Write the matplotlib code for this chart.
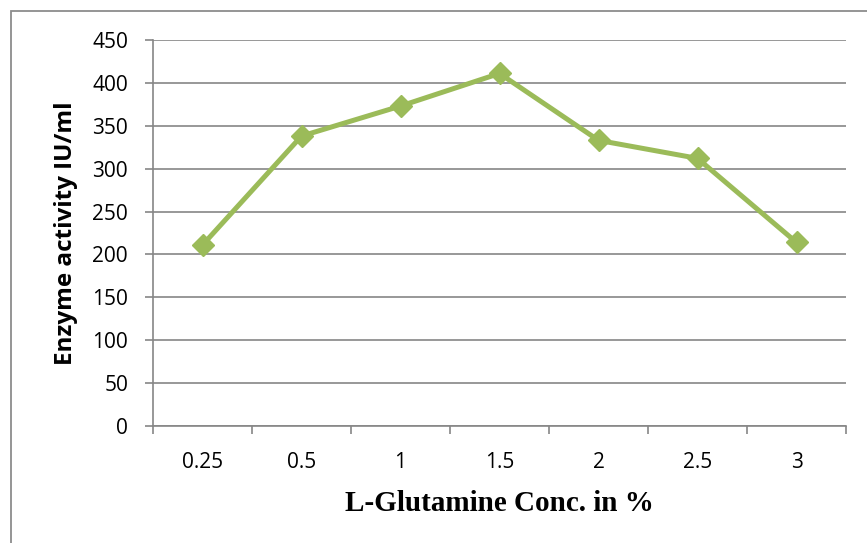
import numpy as np
import matplotlib.pyplot as plt
from matplotlib.patches import Rectangle

conc = ["0.25", "0.5", "1", "1.5", "2", "2.5", "3"]
activity = [211, 338, 373, 411, 333, 312, 214]
yticks = [0, 50, 100, 150, 200, 250, 300, 350, 400, 450]

W, H = 867, 543
fig = plt.figure(figsize=(W / 100, H / 100), dpi=100)
ax = fig.add_axes([153 / W, 1 - 426 / H, (846 - 153) / W, (426 - 40) / H])

# outer chart border (only top/left visible in the reference)
fig.patches.append(Rectangle((11 / W, -0.1), 1.2, 1 - 11 / H + 0.1,
                             transform=fig.transFigure, fill=False,
                             edgecolor="#8c8c8c", linewidth=1.3))

x = np.arange(len(conc))
ax.plot(x, activity, color="#9BBB59", linewidth=3.6, marker="D",
        markersize=11.5, zorder=3, solid_joinstyle="miter")

ax.set_xlim(-0.5, len(conc) - 0.5)
ax.set_ylim(0, 450)
ax.set_yticks(yticks)
ax.set_xticks(x)
ax.set_xticklabels(conc)
ax.set_xticks(np.arange(-0.5, len(conc)), minor=True)
ax.tick_params(axis="x", which="major", length=0, pad=19)
ax.tick_params(axis="x", which="minor", length=6, color="#868686", width=1.2, direction="out")
ax.tick_params(axis="y", length=6, color="#868686", width=1.2, direction="out", pad=12)
for lab in ax.get_xticklabels() + ax.get_yticklabels():
    lab.set_fontfamily("Open Sans")
    lab.set_fontsize(15)

ax.grid(axis="y", color="#868686", linewidth=1.2)
ax.set_axisbelow(True)
for side in ["top", "right"]:
    ax.spines[side].set_visible(False)
ax.spines["left"].set_color("#868686")
ax.spines["bottom"].set_color("#868686")
ax.spines["left"].set_linewidth(1.2)
ax.spines["bottom"].set_linewidth(1.2)

ax.set_ylabel("Enzyme activity IU/ml", fontfamily="Open Sans", fontweight="bold",
              fontsize=17.5, labelpad=10)
ax.set_xlabel("L-Glutamine Conc. in %", fontfamily="Liberation Serif",
              fontweight="bold", fontsize=21, labelpad=12)

fig.savefig("out.png", dpi=100)
